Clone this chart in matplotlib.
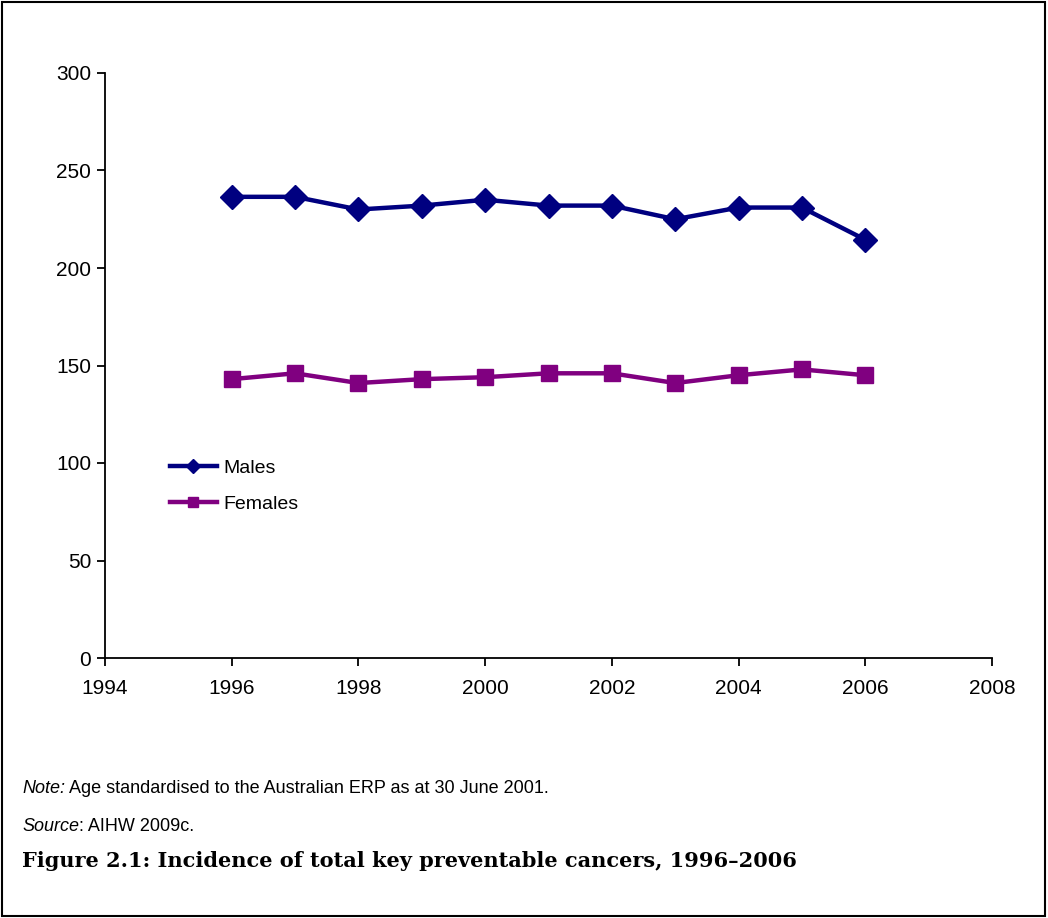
#!/usr/bin/env python3
# -*- coding: utf-8 -*-
"""
Incidence of total key preventable cancers, 1996-2006 (males and females)
"""

#%%
import matplotlib
matplotlib.use('Agg')
import matplotlib.pyplot as plt
from matplotlib.patches import Rectangle
from matplotlib.text import Annotation

#%% Data
years   = [1996, 1997, 1998, 1999, 2000, 2001, 2002, 2003, 2004, 2005, 2006]
males   = [236.5, 236.5, 230, 232, 235, 232, 232, 225, 231, 231, 214.5]
females = [143, 146, 141, 143, 144, 146, 146, 141, 145, 148, 145]

x_ticks = [1994, 1996, 1998, 2000, 2002, 2004, 2006, 2008]
y_ticks = [0, 50, 100, 150, 200, 250, 300]

note_text   = ' Age standardised to the Australian ERP as at 30 June 2001.'
source_text = ': AIHW 2009c.'
title_text  = 'Figure 2.1: Incidence of total key preventable cancers, 1996\u20132006'

#%% Figure
plt.rcParams['font.family'] = ['Liberation Sans', 'DejaVu Sans']

fig = plt.figure(figsize=(10.48, 9.18), dpi=100)
ax = fig.add_axes([105/1048, 1-658/918, 887/1048, 585/918])

ax.plot(years, males, color='#000080', lw=3.2, marker='D', ms=12,
        label='Males')
ax.plot(years, females, color='#800080', lw=3.2, marker='s', ms=12,
        label='Females')

ax.set_xlim(1994, 2008)
ax.set_ylim(0, 300)
ax.set_xticks(x_ticks)
ax.set_yticks(y_ticks)
ax.tick_params(labelsize=15, length=6, width=1.3, direction='out')
ax.tick_params(axis='x', pad=9)
ax.tick_params(axis='y', pad=4)
for s in ['top', 'right']:
    ax.spines[s].set_visible(False)
for s in ['left', 'bottom']:
    ax.spines[s].set_linewidth(1.3)

ax.legend(frameon=False, loc='upper left', bbox_to_anchor=(0.053, 0.37),
          fontsize=14, handlelength=2.45, handletextpad=0.3, labelspacing=0.95,
          markerscale=0.6)

#%% Notes, source and caption
t_note = fig.text(22/1048, 1-793/918, 'Note:', fontsize=13, style='italic')
fig.add_artist(Annotation(note_text, xy=(1, 0), xycoords=t_note,
                          va='bottom', fontsize=13))
t_src = fig.text(22/1048, 1-831/918, 'Source', fontsize=13, style='italic')
fig.add_artist(Annotation(source_text, xy=(1, 0), xycoords=t_src,
                          va='bottom', fontsize=13))
fig.text(22/1048, 1-867/918, title_text, fontsize=15, fontweight='bold',
         family=['DejaVu Serif'])

fig.add_artist(Rectangle((0.0015, 0.002), 0.996, 0.996,
                         transform=fig.transFigure, fill=False, lw=1.5,
                         edgecolor='black'))

fig.savefig('out.png', dpi=100)
plt.close()
